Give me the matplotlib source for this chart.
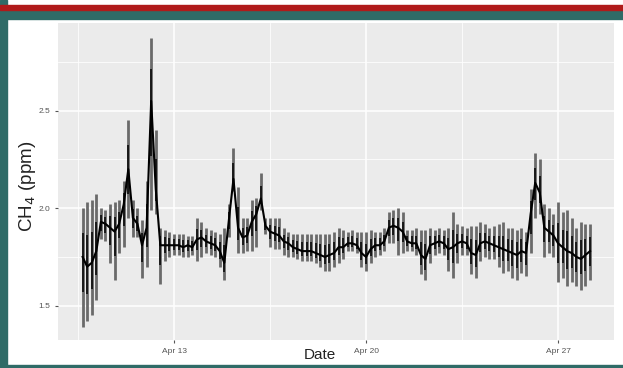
import numpy as np
import pandas as pd
import matplotlib
matplotlib.use("Agg")
import matplotlib.pyplot as plt
import matplotlib.dates as mdates
from matplotlib.patches import Rectangle

# CH4 readings every 4 hours from Apr 9 16:00
ch4_hi = [2.00, 2.03, 2.04, 2.075, 2.00, 1.99, 2.02, 2.03, 2.04, 2.14,
          2.45, 2.04, 2.00, 1.94, 2.14, 2.875, 2.40, 1.90, 1.89, 1.88,
          1.87, 1.87, 1.87, 1.86, 1.86, 1.95, 1.93, 1.90, 1.89, 1.88,
          1.87, 1.90, 2.02, 2.31, 2.11, 1.95, 1.95, 2.04, 2.05, 2.18,
          1.95, 1.95, 1.95, 1.95, 1.90, 1.88, 1.87, 1.87, 1.87, 1.87,
          1.87, 1.87, 1.87, 1.87, 1.87, 1.88, 1.90, 1.89, 1.88, 1.89,
          1.88, 1.88, 1.88, 1.89, 1.88, 1.88, 1.90, 1.98, 1.99, 2.00,
          1.98, 1.89, 1.89, 1.90, 1.89, 1.89, 1.90, 1.89, 1.90, 1.89,
          1.90, 1.98, 1.92, 1.91, 1.90, 1.91, 1.91, 1.93, 1.92, 1.90,
          1.91, 1.92, 1.93, 1.90, 1.90, 1.89, 1.90, 1.88, 2.10, 2.285,
          2.25, 2.02, 2.00, 1.97, 2.03, 1.98, 1.99, 1.95, 1.90, 1.93,
          1.92, 1.92]
ch4_lo = [1.39, 1.42, 1.45, 1.53, 1.84, 1.83, 1.72, 1.63, 1.77, 1.80,
          1.95, 1.85, 1.85, 1.64, 1.70, 1.99, 1.97, 1.61, 1.73, 1.75,
          1.76, 1.76, 1.75, 1.75, 1.76, 1.73, 1.75, 1.77, 1.76, 1.75,
          1.70, 1.63, 1.85, 2.09, 1.77, 1.77, 1.78, 1.78, 1.80, 1.99,
          1.87, 1.80, 1.79, 1.79, 1.76, 1.75, 1.75, 1.74, 1.73, 1.73,
          1.73, 1.72, 1.70, 1.68, 1.68, 1.70, 1.72, 1.74, 1.78, 1.78,
          1.77, 1.70, 1.68, 1.72, 1.75, 1.76, 1.78, 1.82, 1.82, 1.76,
          1.77, 1.78, 1.78, 1.76, 1.66, 1.63, 1.72, 1.76, 1.77, 1.76,
          1.68, 1.64, 1.72, 1.76, 1.76, 1.66, 1.64, 1.73, 1.75, 1.74,
          1.74, 1.70, 1.67, 1.68, 1.64, 1.63, 1.67, 1.65, 1.77, 1.95,
          1.97, 1.75, 1.77, 1.75, 1.62, 1.64, 1.60, 1.62, 1.60, 1.58,
          1.60, 1.63]
ch4_mid = [1.75, 1.70, 1.72, 1.78, 1.93, 1.92, 1.90, 1.88, 1.92, 2.02,
           2.20, 1.95, 1.92, 1.81, 1.90, 2.55, 2.10, 1.81, 1.81, 1.81,
           1.81, 1.81, 1.80, 1.81, 1.80, 1.84, 1.85, 1.83, 1.82, 1.81,
           1.78, 1.72, 1.94, 2.15, 1.90, 1.85, 1.86, 1.93, 1.97, 2.05,
           1.91, 1.88, 1.87, 1.86, 1.83, 1.82, 1.80, 1.79, 1.78, 1.78,
           1.78, 1.77, 1.76, 1.75, 1.76, 1.77, 1.80, 1.80, 1.82, 1.82,
           1.81, 1.77, 1.75, 1.79, 1.81, 1.81, 1.83, 1.90, 1.91, 1.90,
           1.88, 1.83, 1.82, 1.82, 1.76, 1.74, 1.81, 1.82, 1.83, 1.82,
           1.79, 1.80, 1.82, 1.83, 1.82, 1.77, 1.76, 1.82, 1.83, 1.82,
           1.81, 1.80, 1.79, 1.78, 1.77, 1.76, 1.78, 1.77, 1.97, 2.13,
           2.08, 1.90, 1.88, 1.86, 1.82, 1.80, 1.78, 1.77, 1.75, 1.74,
           1.76, 1.78]

times = pd.date_range("2019-04-09 16:00", periods=len(ch4_mid), freq="4h")

y_ticks = [1.5, 2.0, 2.5]
y_tick_labels = ["1.5", "2.0", "2.5"]
x_tick_labels = ["Apr 13", "Apr 20", "Apr 27"]

plt.rcParams["font.family"] = ["Liberation Sans", "DejaVu Sans"]

fig = plt.figure(figsize=(6.23, 3.68), dpi=100)
fig.patch.set_facecolor("white")

# slide frame
teal = "#2f6b67"
fig.add_artist(Rectangle((0, 0), 7 / 623, 1, transform=fig.transFigure, color=teal, zorder=0))
fig.add_artist(Rectangle((0, 1 - 19 / 368), 1, 9.5 / 368, transform=fig.transFigure, color=teal, zorder=0))
fig.add_artist(Rectangle((0, 1 - 10 / 368), 1, 5.3 / 368, transform=fig.transFigure, color="#b01a1a", zorder=0))
fig.add_artist(Rectangle((0, 0), 1, 3 / 368, transform=fig.transFigure, color=teal, zorder=0))

ax = fig.add_axes([58 / 623, 1 - 340 / 368, 556 / 623, 317 / 368])
ax.set_facecolor("#ebebeb")
for s in ax.spines.values():
    s.set_visible(False)

lo = np.array(ch4_lo)
hi = np.array(ch4_hi)
mid = np.array(ch4_mid)

# full range in grey, inner half in black, mean line on top
ax.vlines(times, lo, hi, color="#6a6a6a", linewidth=2.0, zorder=3)
ax.vlines(times, (lo + mid) / 2, (hi + mid) / 2, color="black", linewidth=1.1, zorder=4)
ax.plot(times, mid, color="black", linewidth=1.5, zorder=4)

apr13 = mdates.date2num(pd.Timestamp("2019-04-13"))
ax.set_xlim(apr13 - 4.23, apr13 + 16.04)
ax.set_ylim(1.324, 2.95)

major_x = [pd.Timestamp("2019-04-13"), pd.Timestamp("2019-04-20"), pd.Timestamp("2019-04-27")]
minor_x = [pd.Timestamp("2019-04-09 12:00"), pd.Timestamp("2019-04-16 12:00"), pd.Timestamp("2019-04-23 12:00")]
ax.set_xticks(major_x)
ax.set_xticklabels(x_tick_labels)
ax.set_xticks(minor_x, minor=True)
ax.set_yticks(y_ticks)
ax.set_yticklabels(y_tick_labels)
ax.set_yticks([1.75, 2.25, 2.75], minor=True)

ax.grid(which="major", color="white", linewidth=1.1)
ax.grid(which="minor", color="white", linewidth=0.55)
ax.set_axisbelow(True)
ax.tick_params(which="major", length=2.5, width=0.8, color="#555555",
               labelsize=6, labelcolor="#555555", pad=3)
ax.tick_params(which="minor", length=0)

fig.text(28 / 623, 1 - 186 / 368, "CH$_4$ (ppm)", rotation=90, ha="center", va="center",
         fontsize=13.5, color="#222222")
fig.text(320 / 623, 1 - 355 / 368, "Date", ha="center", va="center", fontsize=11, color="#222222")

fig.savefig("out.png", dpi=100)
